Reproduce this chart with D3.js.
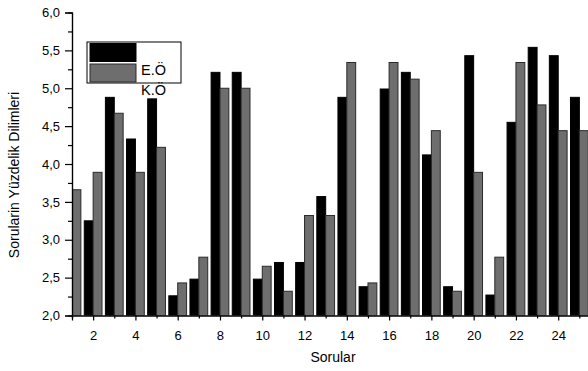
<!DOCTYPE html>
<html>
<head>
<meta charset="utf-8">
<script src="https://d3js.org/d3.v7.min.js"></script>
<style>
  body { margin: 0; background: #fff; }
  svg { display: block; }
  text { font-family: "Liberation Sans", Arial, sans-serif; fill: #000; }
</style>
</head>
<body>
<div id="chart"></div>
<script>
// data
var questions = [1, 2, 3, 4, 5, 6, 7, 8, 9, 10, 11, 12, 13, 14, 15, 16, 17, 18, 19, 20, 21, 22, 23, 24, 25];
var eoValues = [null, 3.25, 4.88, 4.33, 4.86, 2.26, 2.48, 5.21, 5.21, 2.48, 2.70, 2.70, 3.57, 4.88, 2.38, 4.99, 5.21, 4.12, 2.38, 5.43, 2.27, 4.55, 5.54, 5.43, 4.88];
var koValues = [3.66, 3.89, 4.67, 3.89, 4.22, 2.43, 2.77, 5.00, 5.00, 2.65, 2.32, 3.32, 3.32, 5.34, 2.43, 5.34, 5.12, 4.44, 2.32, 3.89, 2.77, 5.34, 4.78, 4.44, 4.44];
var yTicks = [2.0, 2.5, 3.0, 3.5, 4.0, 4.5, 5.0, 5.5, 6.0];
var seriesNames = ['E.Ö', 'K.Ö'];

function ready() {
  var width = 588,
      height = 371;

  var svg = d3.select('#chart').append('svg')
              .attr('width', width)
              .attr('height', height);

  var x = d3.scaleLinear()
            .domain([1, 26])
            .range([72, 72 + 25 * 21.14]);

  var y = d3.scaleLinear()
            .domain([2, 6])
            .range([315.5, 12.5]);

  var barW = x(1.42) - x(1);

  // bars are cut at the y axis
  svg.append('clipPath')
     .attr('id', 'plotClip')
    .append('rect')
     .attr('x', x(1))
     .attr('y', 0)
     .attr('width', 600)
     .attr('height', y(2));

  var bars = svg.append('g').attr('clip-path', 'url(#plotClip)');

  var eo = questions.map(function(q, i) { return { q: q, v: eoValues[i] }; })
                    .filter(function(d) { return d.v != null; });
  var ko = questions.map(function(q, i) { return { q: q, v: koValues[i] }; });

  bars.selectAll('rect.eo')
      .data(eo)
      .enter().append('rect')
      .attr('class', 'eo')
      .attr('x', function(d) { return x(d.q) - barW; })
      .attr('y', function(d) { return y(d.v); })
      .attr('width', barW)
      .attr('height', function(d) { return y(2) - y(d.v); })
      .style('fill', '#000')
      .style('stroke', '#000')
      .style('stroke-width', 1);

  bars.selectAll('rect.ko')
      .data(ko)
      .enter().append('rect')
      .attr('class', 'ko')
      .attr('x', function(d) { return x(d.q); })
      .attr('y', function(d) { return y(d.v); })
      .attr('width', barW)
      .attr('height', function(d) { return y(2) - y(d.v); })
      .style('fill', '#6e6e6e')
      .style('stroke', '#2b2b2b')
      .style('stroke-width', 1);

  // y axis, major + minor ticks
  var yAxis = d3.axisLeft(y)
                .tickValues(yTicks)
                .tickSize(7)
                .tickPadding(5)
                .tickFormat(function(d) { return d3.format('.1f')(d).replace('.', ','); });

  var yMinor = d3.axisLeft(y)
                 .tickValues(d3.range(2.25, 6, 0.5))
                 .tickSize(4)
                 .tickFormat('');

  svg.append('g')
     .attr('transform', 'translate(' + x(1) + ',0)')
     .call(yMinor);

  svg.append('g')
     .attr('class', 'yaxis')
     .attr('transform', 'translate(' + x(1) + ',0)')
     .call(yAxis);

  // x axis
  var xAxis = d3.axisBottom(x)
                .tickValues(d3.range(2, 26, 2))
                .tickSize(5)
                .tickPadding(10)
                .tickFormat(d3.format('d'));

  var xMinor = d3.axisBottom(x)
                 .tickValues(d3.range(1, 27, 2))
                 .tickSize(3)
                 .tickFormat('');

  svg.append('g')
     .attr('transform', 'translate(0,' + y(2) + ')')
     .call(xMinor);

  svg.append('g')
     .attr('class', 'xaxis')
     .attr('transform', 'translate(0,' + y(2) + ')')
     .call(xAxis);

  svg.selectAll('.domain, .tick line')
     .style('stroke', '#000')
     .style('stroke-width', 1.2);

  svg.selectAll('.tick text')
     .style('font-size', '13px');

  // axis titles
  svg.append('text')
     .attr('x', 333)
     .attr('y', 362)
     .attr('text-anchor', 'middle')
     .style('font-size', '14px')
     .text('Sorular');

  svg.append('text')
     .attr('transform', 'translate(19,175) rotate(-90)')
     .attr('text-anchor', 'middle')
     .style('font-size', '14px')
     .text('Sorularin Yüzdelik Dilimleri');

  // legend
  var legend = svg.append('g').attr('class', 'legend');

  legend.append('rect')
        .attr('x', 87)
        .attr('y', 42)
        .attr('width', 94)
        .attr('height', 41)
        .style('fill', '#fff')
        .style('stroke', '#000')
        .style('stroke-width', 1);

  var swatchColors = ['#000', '#6e6e6e'];

  legend.selectAll('rect.sw')
        .data(seriesNames)
        .enter().append('rect')
        .attr('class', 'sw')
        .attr('x', 90)
        .attr('y', function(d, i) { return 43.5 + i * 20.5; })
        .attr('width', 46)
        .attr('height', 18)
        .style('fill', function(d, i) { return swatchColors[i]; })
        .style('stroke', function(d, i) { return i ? '#2b2b2b' : '#000'; });

  legend.selectAll('text')
        .data(seriesNames)
        .enter().append('text')
        .attr('x', 141)
        .attr('y', function(d, i) { return 75 + i * 20; })
        .style('font-size', '14.5px')
        .text(function(d) { return d; });
};

ready();
</script>
</body>
</html>
